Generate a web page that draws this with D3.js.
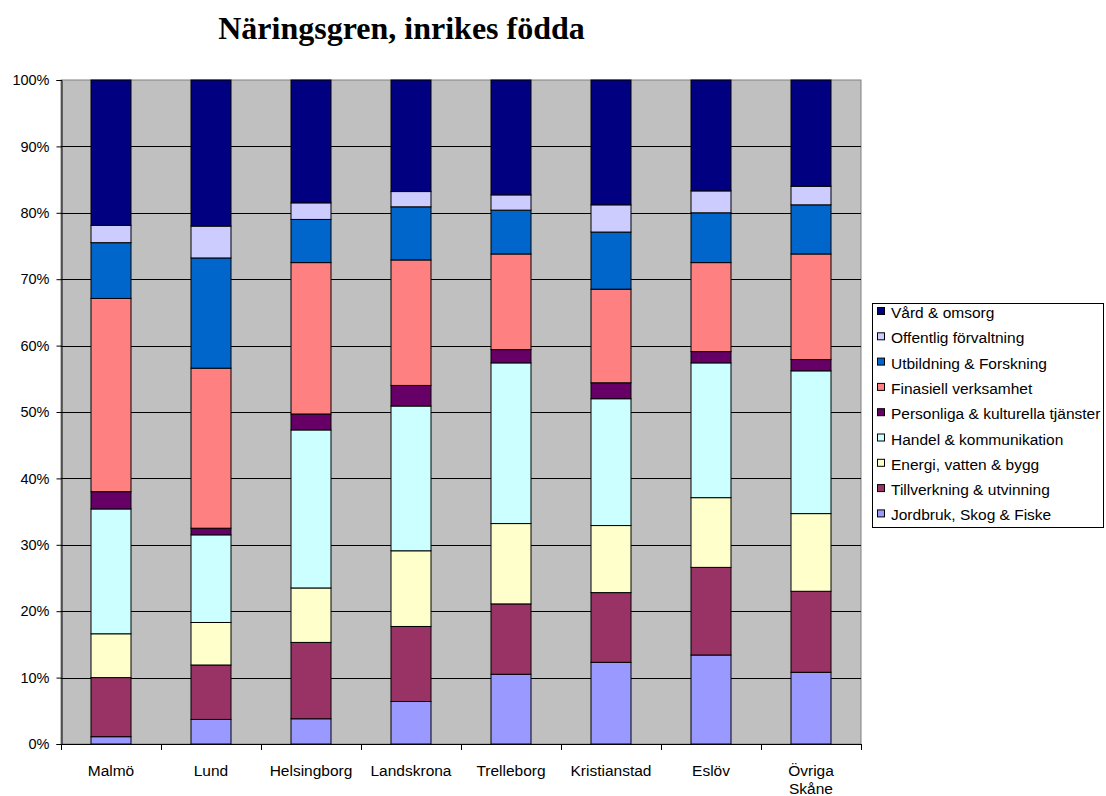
<!DOCTYPE html>
<html>
<head>
<meta charset="utf-8">
<script src="https://cdn.jsdelivr.net/npm/d3@7"></script>
<style>
  html, body { margin: 0; padding: 0; background: #fff; }
  svg { display: block; }
</style>
</head>
<body>
<svg id="chart" width="1106" height="796"></svg>
<script>
// Kommuner (x-axis categories)
const categories = ["Malmö", "Lund", "Helsingborg", "Landskrona", "Trelleborg", "Kristianstad", "Eslöv", "Övriga Skåne"];

// Series, stacked bottom to top (percent of employed, born in Sweden)
const seriesNames = [
  "Jordbruk, Skog & Fiske",
  "Tillverkning & utvinning",
  "Energi, vatten & bygg",
  "Handel & kommunikation",
  "Personliga & kulturella tjänster",
  "Finasiell verksamhet",
  "Utbildning & Forskning",
  "Offentlig förvaltning",
  "Vård & omsorg"
];

const jordbruk     = [1.1, 3.7, 3.8, 6.4, 10.5, 12.3, 13.4, 10.8];
const tillverkning = [8.9, 8.2, 11.5, 11.3, 10.6, 10.5, 13.2, 12.2];
const energi       = [6.6, 6.4, 8.2, 11.4, 12.1, 10.1, 10.5, 11.7];
const handel       = [18.8, 13.2, 23.8, 21.8, 24.2, 19.1, 20.3, 21.5];
const personliga   = [2.6, 1.0, 2.4, 3.1, 2.0, 2.4, 1.7, 1.7];
const finasiell    = [29.1, 24.1, 22.8, 18.9, 14.4, 14.1, 13.4, 15.9];
const utbildning   = [8.4, 16.6, 6.5, 8.0, 6.6, 8.6, 7.5, 7.4];
const offentlig    = [2.6, 4.8, 2.5, 2.3, 2.3, 4.1, 3.3, 2.8];
const vard         = [21.9, 22.0, 18.5, 16.8, 17.3, 18.8, 16.7, 16.0];

const yTicks = [0, 10, 20, 30, 40, 50, 60, 70, 80, 90, 100];

const seriesValues = [jordbruk, tillverkning, energi, handel, personliga, finasiell, utbildning, offentlig, vard];
const colors = ["#9999FF", "#993366", "#FFFFCC", "#CCFFFF", "#660066", "#FF8080", "#0066CC", "#CCCCFF", "#000080"];

const rows = categories.map((c, i) => {
  const r = { category: c };
  seriesNames.forEach((s, j) => { r[s] = seriesValues[j][i]; });
  return r;
});

const sans = "'Liberation Sans', Arial, sans-serif";
const svg = d3.select("#chart");
const plot = { left: 61, right: 861, top: 80, bottom: 744 };

const x = d3.scaleBand().domain(categories).range([plot.left, plot.right]).paddingInner(0.6).paddingOuter(0.3);
const y = d3.scaleLinear().domain([0, 100]).range([plot.bottom, plot.top]);

// Title
svg.append("text")
  .attr("x", 401.5).attr("y", 39)
  .attr("text-anchor", "middle")
  .style("font-family", "'Liberation Serif', 'Times New Roman', serif")
  .style("font-weight", "bold")
  .style("font-size", "32px")
  .text("Näringsgren, inrikes födda");

// Plot background
svg.append("rect")
  .attr("x", plot.left).attr("y", plot.top)
  .attr("width", plot.right - plot.left).attr("height", plot.bottom - plot.top)
  .attr("fill", "#C0C0C0")
  .attr("stroke", "#808080").attr("stroke-width", 1);

// Horizontal gridlines
svg.append("g")
  .selectAll("line")
  .data(yTicks.filter(t => t > 0 && t < 100))
  .join("line")
  .attr("x1", plot.left).attr("x2", plot.right)
  .attr("y1", d => Math.round(y(d)) + 0.5).attr("y2", d => Math.round(y(d)) + 0.5)
  .attr("stroke", "#000").attr("stroke-width", 1);

// Stacked bars
const stack = d3.stack().keys(seriesNames);
const stacked = stack(rows);

svg.append("g")
  .selectAll("g")
  .data(stacked)
  .join("g")
  .attr("fill", (d, i) => colors[i])
  .selectAll("rect")
  .data(d => d)
  .join("rect")
  .attr("x", d => x(d.data.category))
  .attr("y", d => y(d[1]))
  .attr("width", x.bandwidth())
  .attr("height", d => y(d[0]) - y(d[1]))
  .attr("stroke", "#000")
  .attr("stroke-width", 1);

// Y axis
const yAxis = d3.axisLeft(y)
  .tickValues(yTicks)
  .tickFormat(d => d + "%")
  .tickSize(5)
  .tickPadding(7);

const gy = svg.append("g")
  .attr("transform", `translate(${plot.left + 0.5},0)`)
  .call(yAxis);
gy.select(".domain").attr("stroke", "#000");
gy.selectAll(".tick line").attr("stroke", "#000");
gy.selectAll("text")
  .style("font-family", sans)
  .style("font-size", "14.5px")
  .attr("fill", "#000");

// X axis: tick marks between categories
const gx = svg.append("g");
gx.append("line")
  .attr("x1", plot.left).attr("x2", plot.right)
  .attr("y1", plot.bottom + 0.5).attr("y2", plot.bottom + 0.5)
  .attr("stroke", "#000");
const step = x.step();
const boundaries = d3.range(categories.length + 1).map(i => x(categories[0]) - x.paddingOuter() * step + i * step);
gx.selectAll("line.tk")
  .data(boundaries)
  .join("line")
  .attr("class", "tk")
  .attr("x1", d => Math.round(d) + 0.5).attr("x2", d => Math.round(d) + 0.5)
  .attr("y1", plot.bottom).attr("y2", plot.bottom + 6)
  .attr("stroke", "#000");

gx.selectAll("text.cat")
  .data(categories)
  .join("text")
  .attr("class", "cat")
  .attr("x", d => x(d) + x.bandwidth() / 2)
  .attr("y", 776)
  .attr("text-anchor", "middle")
  .style("font-family", sans)
  .style("font-size", "15.5px")
  .each(function(d) {
    const words = d === "Övriga Skåne" ? ["Övriga", "Skåne"] : [d];
    const t = d3.select(this);
    words.forEach((w, i) => {
      t.append("tspan")
        .attr("x", x(d) + x.bandwidth() / 2)
        .attr("dy", i === 0 ? 0 : 18)
        .text(w);
    });
  });

// Legend (top series first)
const legend = svg.append("g");
legend.append("rect")
  .attr("x", 872.5).attr("y", 303.5)
  .attr("width", 231).attr("height", 224)
  .attr("fill", "#fff").attr("stroke", "#000");

const legendOrder = d3.range(seriesNames.length).reverse();
const items = legend.selectAll("g.item")
  .data(legendOrder)
  .join("g")
  .attr("class", "item")
  .attr("transform", (d, i) => `translate(0, ${311 + i * 25.3})`);

items.append("rect")
  .attr("x", 877.5).attr("y", -3.5)
  .attr("width", 7).attr("height", 7)
  .attr("fill", d => colors[d])
  .attr("stroke", "#000");

items.append("text")
  .attr("x", 891).attr("y", 7)
  .style("font-family", sans)
  .style("font-size", "15.5px")
  .text(d => seriesNames[d]);
</script>
</body>
</html>
